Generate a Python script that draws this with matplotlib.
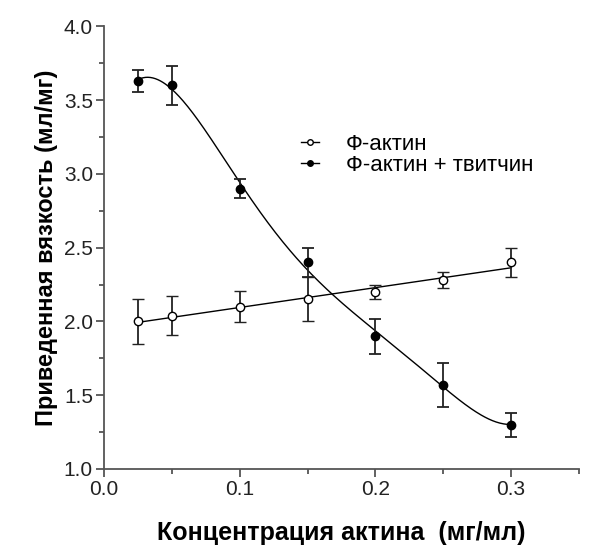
import numpy as np
import matplotlib.pyplot as plt
from matplotlib.ticker import MultipleLocator, FormatStrFormatter

plt.rcParams['font.family'] = ['Liberation Sans', 'DejaVu Sans']

# concentrations (mg/ml)
conc = [0.025, 0.05, 0.1, 0.15, 0.2, 0.25, 0.3]

# F-actin alone
actin = [2.00, 2.04, 2.10, 2.15, 2.20, 2.28, 2.40]
actin_err = [0.155, 0.13, 0.105, 0.15, 0.045, 0.055, 0.10]

# F-actin + twitchin
twitch = [3.63, 3.60, 2.90, 2.40, 1.90, 1.57, 1.30]
twitch_err = [0.075, 0.13, 0.065, 0.10, 0.12, 0.15, 0.08]

fig = plt.figure(figsize=(5.9, 5.47), dpi=100)
ax = fig.add_axes([0.1763, 0.1426, 0.805, 0.809])

xs = np.linspace(conc[0], conc[-1], 300)

# linear fit for actin
p1 = np.polyfit(conc, actin, 1)
ax.plot(xs, np.polyval(p1, xs), color='black', lw=1.0)

# polynomial fit for twitchin
p5 = np.polyfit(conc, twitch, 5)
ax.plot(xs, np.polyval(p5, xs), color='black', lw=1.0)

ax.errorbar(conc, actin, yerr=actin_err, fmt='o', mfc='white', mec='black',
            ms=6, mew=1.0, ecolor='#222222', elinewidth=1.3, capsize=4,
            capthick=1.3, zorder=3)
ax.errorbar(conc, twitch, yerr=twitch_err, fmt='o', mfc='black', mec='black',
            ms=6, ecolor='#222222', elinewidth=1.3, capsize=4, capthick=1.3,
            zorder=3)

# legend
h1, = ax.plot([], [], '-o', color='black', mfc='white', ms=4, lw=1.0)
h2, = ax.plot([], [], '-o', color='black', mfc='black', ms=4, lw=1.0)
ax.legend([h1, h2], ['Ф-актин', 'Ф-актин + твитчин'], frameon=False,
          fontsize=16, loc='upper left', bbox_to_anchor=(0.415, 0.758),
          handlelength=0.8, handletextpad=1.2, labelspacing=0.0,
          borderaxespad=0, borderpad=0)

ax.set_xlim(0, 0.35)
ax.set_ylim(1.0, 4.0)
ax.xaxis.set_major_locator(MultipleLocator(0.1))
ax.xaxis.set_minor_locator(MultipleLocator(0.05))
ax.yaxis.set_major_locator(MultipleLocator(0.5))
ax.yaxis.set_minor_locator(MultipleLocator(0.25))
ax.xaxis.set_major_formatter(FormatStrFormatter('%.1f'))
ax.yaxis.set_major_formatter(FormatStrFormatter('%.1f'))

for s in ['top', 'right']:
    ax.spines[s].set_visible(False)
for s in ['left', 'bottom']:
    ax.spines[s].set_color('#555555')
    ax.spines[s].set_linewidth(1.3)

ax.tick_params(which='major', direction='out', length=6, width=1.3,
               labelsize=15, colors='#555555', labelcolor='#222222', pad=2)
ax.tick_params(which='minor', direction='out', length=3.5, width=1.3,
               colors='#555555')

ax.set_xlabel('Концентрация актина  (мг/мл)', fontsize=18, fontweight='bold',
              labelpad=16)
ax.set_ylabel('Приведенная вязкость (мл/мг)', fontsize=17, fontweight='bold',
              labelpad=4)

fig.savefig('out.png', dpi=100)
